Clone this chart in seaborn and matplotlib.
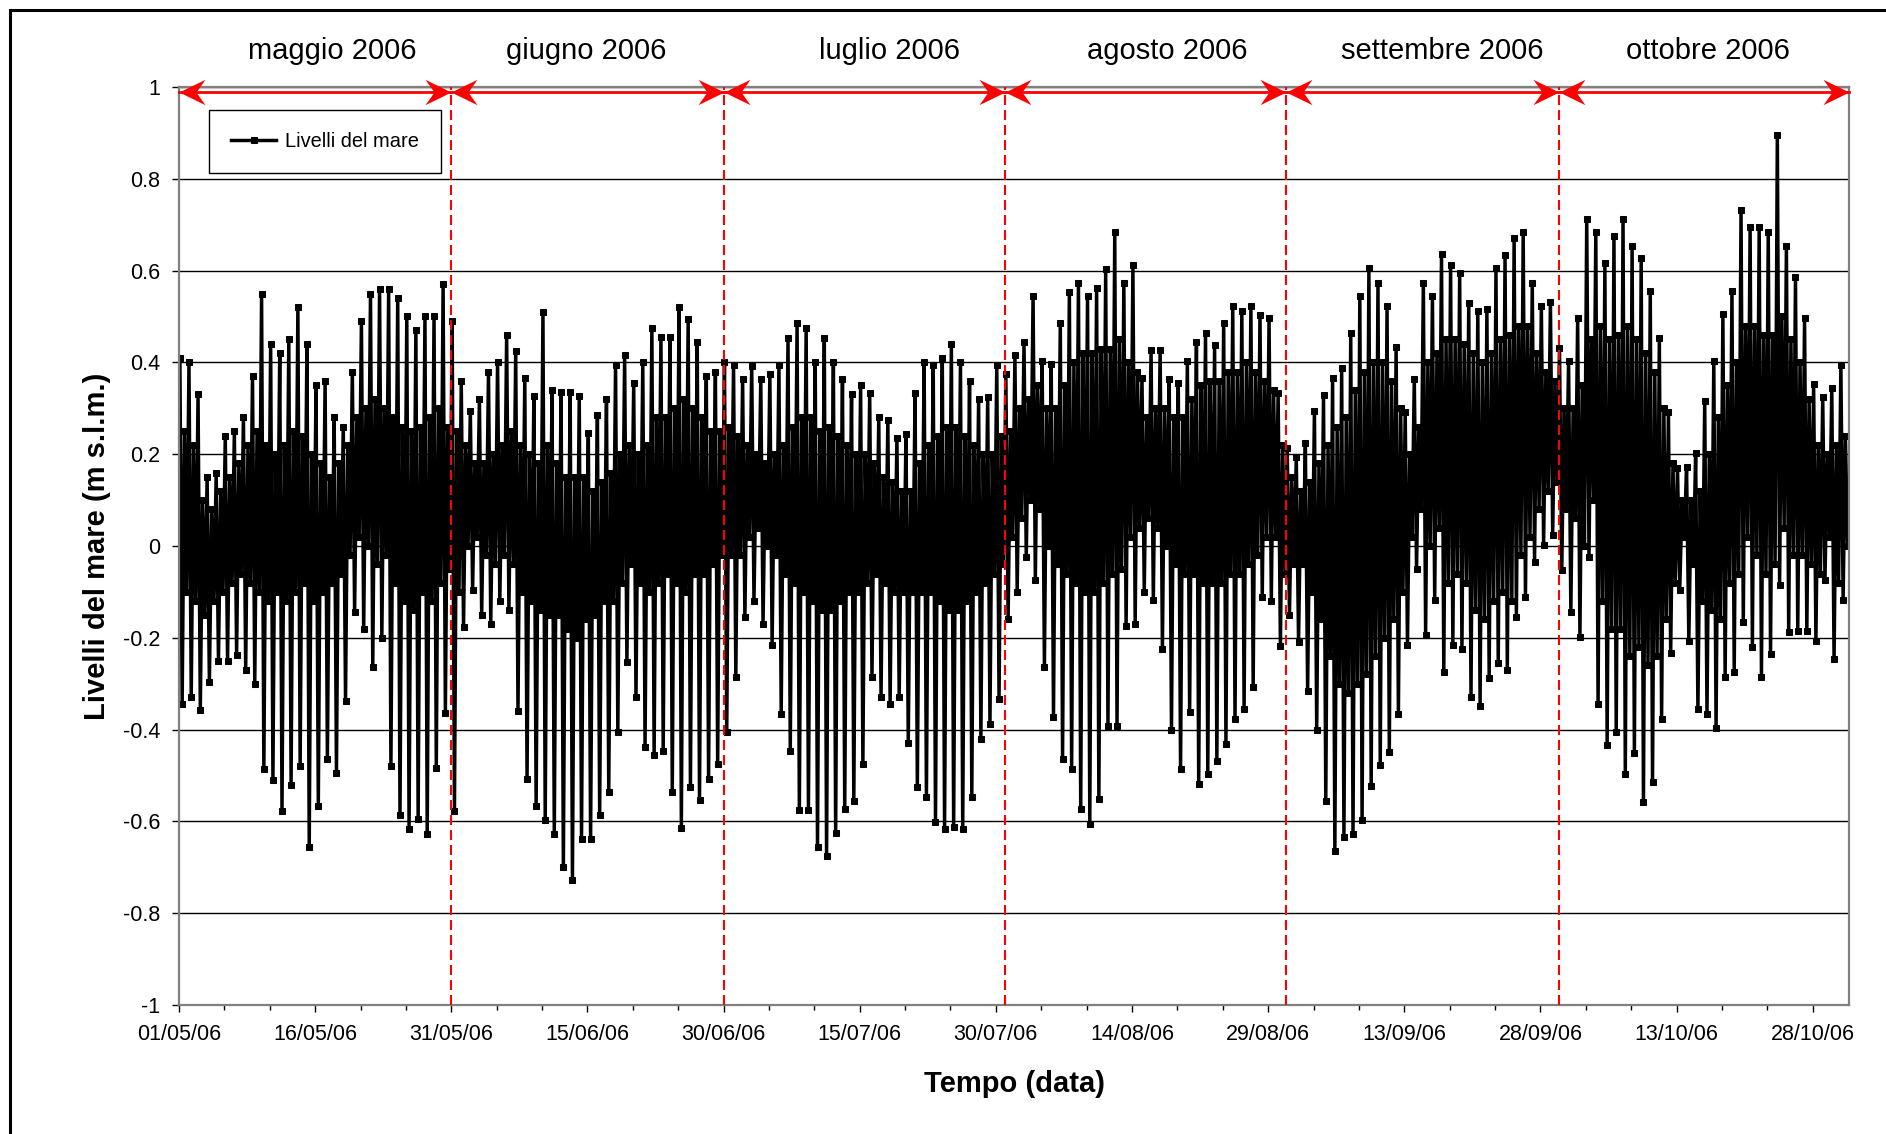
import pandas as pd
import matplotlib.pyplot as plt
import matplotlib.dates as mdates
import matplotlib.transforms as mtransforms
from matplotlib.path import Path
from matplotlib.patches import Rectangle
import seaborn as sns

plt.rcParams['font.family'] = ['Liberation Sans', 'DejaVu Sans']

# livelli (m s.l.m.), un valore per giorno, una riga per mese (mag..ott)
# alta principale
alta1 = [
    0.41, 0.40, 0.33, 0.15, 0.16, 0.24, 0.25, 0.28, 0.37, 0.55, 0.44, 0.42, 0.45, 0.52, 0.44, 0.35, 0.36, 0.28, 0.26, 0.38, 0.49, 0.55, 0.56, 0.56, 0.54, 0.50, 0.47, 0.50, 0.50, 0.57, 0.49,
    0.36, 0.295, 0.32, 0.38, 0.40, 0.46, 0.425, 0.366, 0.326, 0.51, 0.34, 0.335, 0.335, 0.326, 0.246, 0.285, 0.32, 0.395, 0.415, 0.355, 0.40, 0.475, 0.455, 0.455, 0.52, 0.494, 0.444, 0.37, 0.38, 0.40,
    0.395, 0.363, 0.393, 0.363, 0.375, 0.395, 0.453, 0.485, 0.474, 0.40, 0.453, 0.40, 0.363, 0.33, 0.35, 0.333, 0.28, 0.274, 0.236, 0.243, 0.333, 0.40, 0.395, 0.41, 0.44, 0.40, 0.36, 0.32, 0.325, 0.395, 0.375,
    0.415, 0.444, 0.545, 0.404, 0.396, 0.486, 0.553, 0.574, 0.545, 0.563, 0.604, 0.683, 0.574, 0.613, 0.366, 0.426, 0.426, 0.364, 0.355, 0.404, 0.444, 0.464, 0.437, 0.486, 0.523, 0.512, 0.523, 0.504, 0.496, 0.333, 0.214,
    0.194, 0.224, 0.295, 0.328, 0.366, 0.388, 0.464, 0.545, 0.605, 0.574, 0.523, 0.433, 0.292, 0.364, 0.574, 0.545, 0.637, 0.612, 0.594, 0.53, 0.512, 0.517, 0.605, 0.634, 0.67, 0.683, 0.572, 0.523, 0.532, 0.431,
    0.404, 0.496, 0.713, 0.683, 0.616, 0.675, 0.713, 0.654, 0.628, 0.556, 0.453, 0.292, 0.17, 0.172, 0.203, 0.315, 0.404, 0.505, 0.556, 0.733, 0.694, 0.694, 0.683, 0.895, 0.654, 0.585, 0.496, 0.352, 0.325, 0.344, 0.395,
]
# bassa principale
bassa1 = [
    -0.345, -0.33, -0.357, -0.297, -0.25, -0.25, -0.237, -0.27, -0.30, -0.486, -0.51, -0.578, -0.52, -0.48, -0.656, -0.567, -0.464, -0.495, -0.337, -0.144, -0.182, -0.263, -0.20, -0.48, -0.586, -0.616, -0.595, -0.627, -0.483, -0.364, -0.578,
    -0.177, -0.095, -0.15, -0.17, -0.12, -0.14, -0.36, -0.507, -0.567, -0.598, -0.627, -0.70, -0.727, -0.638, -0.638, -0.586, -0.537, -0.405, -0.253, -0.33, -0.437, -0.456, -0.446, -0.535, -0.614, -0.526, -0.554, -0.508, -0.475, -0.405,
    -0.285, -0.155, -0.12, -0.17, -0.215, -0.367, -0.446, -0.576, -0.576, -0.656, -0.676, -0.625, -0.573, -0.556, -0.475, -0.285, -0.33, -0.345, -0.33, -0.43, -0.526, -0.546, -0.602, -0.616, -0.613, -0.616, -0.546, -0.42, -0.388, -0.334, -0.16,
    -0.10, -0.025, -0.074, -0.263, -0.372, -0.464, -0.486, -0.573, -0.605, -0.551, -0.392, -0.392, -0.175, -0.171, -0.10, -0.117, -0.225, -0.402, -0.486, -0.361, -0.519, -0.497, -0.468, -0.432, -0.377, -0.356, -0.307, -0.112, -0.12, -0.218, -0.15,
    -0.209, -0.316, -0.402, -0.556, -0.665, -0.633, -0.627, -0.598, -0.524, -0.478, -0.448, -0.367, -0.215, -0.05, -0.193, -0.117, -0.274, -0.215, -0.225, -0.329, -0.348, -0.287, -0.256, -0.27, -0.155, -0.112, -0.036, 0.003, 0.024, -0.052,
    -0.144, -0.198, -0.025, -0.345, -0.434, -0.405, -0.497, -0.45, -0.557, -0.515, -0.377, -0.233, -0.095, -0.206, -0.356, -0.367, -0.396, -0.285, -0.274, -0.166, -0.22, -0.285, -0.236, -0.084, -0.187, -0.185, -0.185, -0.206, -0.074, -0.247, -0.117,
]
# alta secondaria
alta2 = [
    0.25, 0.22, 0.10, 0.08, 0.12, 0.15, 0.18, 0.22, 0.25, 0.22, 0.20, 0.22, 0.25, 0.24, 0.20, 0.18, 0.15, 0.18, 0.22, 0.28, 0.30, 0.32, 0.30, 0.28, 0.26, 0.25, 0.26, 0.28, 0.30, 0.26, 0.25,
    0.22, 0.18, 0.18, 0.20, 0.22, 0.25, 0.22, 0.20, 0.18, 0.22, 0.18, 0.15, 0.15, 0.15, 0.12, 0.14, 0.16, 0.20, 0.22, 0.20, 0.22, 0.28, 0.28, 0.30, 0.32, 0.30, 0.28, 0.25, 0.25, 0.26,
    0.24, 0.22, 0.20, 0.18, 0.20, 0.22, 0.26, 0.28, 0.28, 0.25, 0.26, 0.24, 0.22, 0.20, 0.20, 0.18, 0.15, 0.14, 0.12, 0.12, 0.18, 0.22, 0.24, 0.26, 0.26, 0.24, 0.22, 0.20, 0.20, 0.24, 0.25,
    0.30, 0.32, 0.35, 0.30, 0.30, 0.35, 0.40, 0.42, 0.42, 0.43, 0.43, 0.45, 0.40, 0.38, 0.28, 0.30, 0.30, 0.28, 0.28, 0.32, 0.35, 0.36, 0.36, 0.38, 0.38, 0.40, 0.38, 0.36, 0.34, 0.22, 0.15,
    0.12, 0.14, 0.18, 0.22, 0.26, 0.28, 0.34, 0.38, 0.40, 0.40, 0.36, 0.30, 0.20, 0.26, 0.40, 0.42, 0.45, 0.45, 0.44, 0.42, 0.40, 0.42, 0.45, 0.46, 0.48, 0.48, 0.42, 0.38, 0.36, 0.30,
    0.30, 0.35, 0.45, 0.48, 0.45, 0.46, 0.48, 0.45, 0.42, 0.38, 0.30, 0.18, 0.10, 0.10, 0.12, 0.20, 0.28, 0.35, 0.40, 0.48, 0.48, 0.46, 0.46, 0.50, 0.45, 0.40, 0.32, 0.22, 0.20, 0.22, 0.24,
]
# bassa secondaria
bassa2 = [
    -0.10, -0.12, -0.15, -0.12, -0.10, -0.08, -0.06, -0.08, -0.10, -0.12, -0.10, -0.12, -0.10, -0.08, -0.12, -0.10, -0.08, -0.06, -0.02, 0.02, 0.0, -0.04, -0.02, -0.08, -0.12, -0.14, -0.10, -0.12, -0.08, -0.05, -0.10,
    0.00, 0.02, -0.02, -0.04, -0.02, -0.04, -0.10, -0.12, -0.14, -0.15, -0.15, -0.18, -0.20, -0.16, -0.15, -0.12, -0.12, -0.08, -0.04, -0.08, -0.10, -0.08, -0.06, -0.08, -0.10, -0.06, -0.06, -0.04, -0.02, -0.02,
    -0.02, 0.02, 0.04, 0.0, -0.02, -0.06, -0.08, -0.10, -0.12, -0.14, -0.14, -0.12, -0.10, -0.10, -0.08, -0.06, -0.08, -0.10, -0.10, -0.10, -0.10, -0.10, -0.12, -0.14, -0.14, -0.12, -0.10, -0.08, -0.06, -0.04, 0.02,
    0.06, 0.10, 0.08, 0.0, -0.04, -0.06, -0.08, -0.10, -0.10, -0.08, -0.06, -0.05, 0.02, 0.04, 0.06, 0.04, 0.0, -0.04, -0.06, -0.06, -0.08, -0.08, -0.08, -0.06, -0.06, -0.04, -0.02, 0.02, 0.02, -0.06, -0.04,
    -0.04, -0.10, -0.16, -0.24, -0.30, -0.32, -0.30, -0.28, -0.24, -0.20, -0.16, -0.10, 0.02, 0.08, 0.0, 0.04, -0.08, -0.06, -0.08, -0.14, -0.16, -0.12, -0.10, -0.12, -0.02, 0.02, 0.08, 0.12, 0.14, 0.08,
    0.06, 0.0, 0.10, -0.12, -0.18, -0.18, -0.24, -0.22, -0.26, -0.24, -0.16, -0.08, 0.02, -0.04, -0.12, -0.14, -0.16, -0.08, -0.06, 0.02, -0.02, -0.06, -0.04, 0.04, -0.02, -0.02, -0.04, -0.06, 0.02, -0.08, 0.0,
]

mesi = ['maggio 2006', 'giugno 2006', 'luglio 2006', 'agosto 2006', 'settembre 2006', 'ottobre 2006']
fine_mese = ['2006-05-31', '2006-06-30', '2006-07-31', '2006-08-31', '2006-09-30']
pos_mesi = ['2006-05-17 20:00', '2006-06-14 22:00', '2006-07-18 07:00', '2006-08-17 22:00', '2006-09-17 05:00', '2006-10-16 12:00']
y_labels = ['-1', '-0.8', '-0.6', '-0.4', '-0.2', '0', '0.2', '0.4', '0.6', '0.8', '1']

# serie: alta, bassa, alta, bassa per ogni giorno
giorni = pd.date_range('2006-05-01', periods=len(alta1), freq='D')
ore = [2.4, 8.4, 14.4, 20.4]
tempi, livelli = [], []
for g, a, b, c, d in zip(giorni, alta1, bassa1, alta2, bassa2):
    for h, val in zip(ore, (a, b, c, d)):
        tempi.append(g + pd.Timedelta(hours=h))
        livelli.append(val)
df = pd.DataFrame({'data': tempi, 'livello': livelli})

fig = plt.figure(figsize=(18.86, 11.34), dpi=100)
fig.patches.append(Rectangle((10 / 1886, -0.1), 1.2, 1.1 - 10 / 1134, transform=fig.transFigure,
                             fill=False, edgecolor='black', lw=2.2))
ax = fig.add_axes([0.0949, 0.1138, 0.8855, 0.8095])

sns.lineplot(data=df, x='data', y='livello', ax=ax, color='black', lw=2.5, marker='s', markersize=4.6,
             markeredgecolor='black', sort=False, estimator=None, label='Livelli del mare')

t0, t1 = pd.Timestamp('2006-05-01'), pd.Timestamp('2006-11-01')
ax.set_xlim(t0, t1)
ax.set_ylim(-1, 1)
ax.set_yticks([-1, -0.8, -0.6, -0.4, -0.2, 0, 0.2, 0.4, 0.6, 0.8, 1])
ax.set_yticklabels(y_labels)
ax.set_xticks(pd.date_range(t0, t1, freq='15D'))
ax.set_xticks(pd.date_range(t0, t1, freq='5D'), minor=True)
ax.xaxis.set_major_formatter(mdates.DateFormatter('%d/%m/%y'))
ax.tick_params(axis='both', which='major', labelsize=15.5, length=5, width=1, direction='out')
ax.tick_params(axis='x', which='major', pad=9)
ax.tick_params(axis='y', which='major', pad=8.5)
ax.tick_params(axis='x', which='minor', length=3.5, width=1, direction='out')
ax.yaxis.grid(True, color='black', lw=1.0)
ax.set_axisbelow(True)
for s in ax.spines.values():
    s.set_color('#808080')
    s.set_linewidth(1.6)

ax.set_xlabel('Tempo (data)', fontsize=21, fontweight='bold')
ax.set_ylabel('Livelli del mare (m s.l.m.)', fontsize=21, fontweight='bold')
ax.xaxis.set_label_coords(0.5, -0.071)
ax.yaxis.set_label_coords(-0.041, 0.5)

# linee di fine mese
for f in fine_mese:
    ax.axvline(pd.Timestamp(f), color='red', lw=1.5, linestyle=(0, (4.8, 2.4)), zorder=3)

# frecce dei mesi
punta_dx = Path([(0, 0), (-26, 12.7), (-17, 0), (-26, -12.7), (0, 0)],
                [Path.MOVETO, Path.LINETO, Path.LINETO, Path.LINETO, Path.CLOSEPOLY])
punta_sx = Path([(0, 0), (26, 12.7), (17, 0), (26, -12.7), (0, 0)],
                [Path.MOVETO, Path.LINETO, Path.LINETO, Path.LINETO, Path.CLOSEPOLY])
bordi = [t0] + [pd.Timestamp(f) for f in fine_mese] + [t1]
y_freccia = 0.988
for a, b in zip(bordi[:-1], bordi[1:]):
    ax.plot([a, b], [y_freccia, y_freccia], color='red', lw=2, clip_on=False, zorder=4)
    ax.plot([b], [y_freccia], marker=punta_dx, markersize=37.4, color='red', mew=0, clip_on=False, zorder=4)
    ax.plot([a], [y_freccia], marker=punta_sx, markersize=37.4, color='red', mew=0, clip_on=False, zorder=4)

trans = mtransforms.blended_transform_factory(ax.transData, ax.transAxes)
for m, p in zip(mesi, pos_mesi):
    ax.text(pd.Timestamp(p), 1.039, m, transform=trans, ha='center', va='center', fontsize=21)

leg = ax.legend(loc='upper left', bbox_to_anchor=(0.018, 0.975), borderaxespad=0, fontsize=14.4,
                handlelength=2.25, handletextpad=0.45, borderpad=1.1, fancybox=False,
                edgecolor='black', framealpha=1)
leg.get_frame().set_linewidth(1.0)

plt.savefig('out.png', dpi=100)
